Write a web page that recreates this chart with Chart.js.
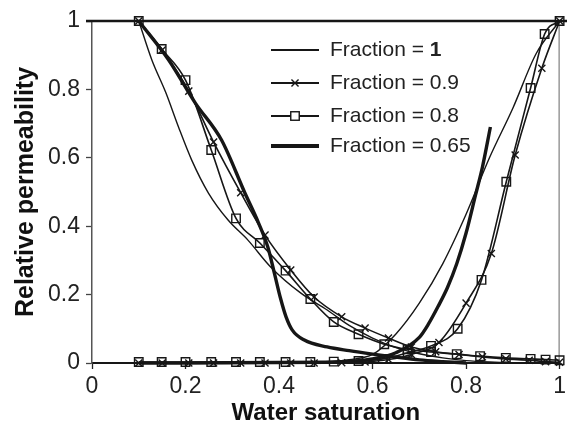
<!DOCTYPE html>
<html>
<head>
<meta charset="utf-8">
<script src="https://cdn.jsdelivr.net/npm/chart.js@4.4.1/dist/chart.umd.min.js"></script>
<style>
  html, body { margin: 0; padding: 0; background: #ffffff; }
  #c { display: block; }
</style>
</head>
<body>
<canvas id="c" width="567" height="434" style="width:567px;height:434px"></canvas>
<script>
// ---------- data ----------
const xTickValues = [0, 0.2, 0.4, 0.6, 0.8, 1];
const xTickLabels = ['0', '0.2', '0.4', '0.6', '0.8', '1'];
const yTickValues = [0, 0.2, 0.4, 0.6, 0.8, 1];
const yTickLabels = ['0', '0.2', '0.4', '0.6', '0.8', '1'];

const seriesNames = ['Fraction = 1', 'Fraction = 0.9', 'Fraction = 0.8', 'Fraction = 0.65'];

// Fraction = 1 (thin line)
const swF100Oil = [0.1, 0.128, 0.158, 0.185, 0.213, 0.249, 0.291, 0.333, 0.382, 0.446, 0.503, 0.55, 0.6, 0.65, 0.7, 0.75, 0.8, 0.85, 0.9, 1.0];
const krF100Oil = [1, 0.886, 0.79, 0.69, 0.594, 0.497, 0.418, 0.36, 0.281, 0.205, 0.155, 0.11, 0.073, 0.045, 0.027, 0.015, 0.007, 0.003, 0.001, 0];
const swF100Wat = [0.1, 0.4, 0.5, 0.55, 0.6, 0.65, 0.7, 0.75, 0.8, 0.85, 0.9, 0.95, 1.0];
const krF100Wat = [0, 0, 0.003, 0.01, 0.025, 0.085, 0.175, 0.29, 0.435, 0.6, 0.745, 0.905, 1];

// Fraction = 0.9 (x markers)
const swF90Oil = [0.1, 0.15, 0.207, 0.26, 0.318, 0.37, 0.425, 0.475, 0.534, 0.584, 0.634, 0.683, 0.735, 0.785, 0.835, 0.885, 0.935, 0.97, 1.0];
const krF90Oil = [1, 0.915, 0.795, 0.646, 0.498, 0.374, 0.272, 0.193, 0.135, 0.102, 0.073, 0.047, 0.033, 0.025, 0.018, 0.012, 0.008, 0.004, 0.002];
const swF90Wat = [0.1, 0.15, 0.207, 0.26, 0.318, 0.37, 0.425, 0.475, 0.534, 0.584, 0.634, 0.683, 0.742, 0.8, 0.854, 0.905, 0.962, 1.0];
const krF90Wat = [0, 0, 0, 0, 0, 0, 0, 0, 0.001, 0.003, 0.01, 0.025, 0.06, 0.175, 0.32, 0.608, 0.862, 1];

// Fraction = 0.8 (square markers)
const swF80Oil = [0.1, 0.149, 0.2, 0.255, 0.308, 0.359, 0.414, 0.467, 0.517, 0.57, 0.625, 0.675, 0.725, 0.78, 0.83, 0.885, 0.938, 0.97, 1.0];
const krF80Oil = [1, 0.918, 0.827, 0.623, 0.423, 0.351, 0.27, 0.187, 0.12, 0.084, 0.055, 0.04, 0.032, 0.026, 0.02, 0.015, 0.012, 0.01, 0.008];
const swF80Wat = [0.1, 0.149, 0.2, 0.255, 0.308, 0.359, 0.414, 0.467, 0.517, 0.57, 0.622, 0.675, 0.725, 0.782, 0.833, 0.886, 0.938, 0.968, 1.0];
const krF80Wat = [0.003, 0.003, 0.003, 0.003, 0.003, 0.003, 0.003, 0.003, 0.004, 0.006, 0.012, 0.03, 0.05, 0.1, 0.243, 0.53, 0.804, 0.962, 1];

// Fraction = 0.65 (thick line)
const swF65Oil = [0.1, 0.164, 0.221, 0.277, 0.327, 0.356, 0.376, 0.39, 0.403, 0.415, 0.428, 0.454, 0.503, 0.55, 0.6, 0.65, 0.7, 0.75, 0.8];
const krF65Oil = [1, 0.886, 0.76, 0.652, 0.497, 0.41, 0.339, 0.263, 0.19, 0.135, 0.097, 0.067, 0.047, 0.036, 0.026, 0.017, 0.009, 0.004, 0];
const swF65Wat = [0.1, 0.5, 0.55, 0.6, 0.65, 0.7, 0.72, 0.74, 0.76, 0.78, 0.8, 0.82, 0.835, 0.852];
const krF65Wat = [0, 0.002, 0.005, 0.012, 0.03, 0.075, 0.115, 0.165, 0.22, 0.29, 0.38, 0.49, 0.573, 0.69];

// ---------- build ----------
const FONT = "'Liberation Sans', Arial, Helvetica, sans-serif";
const INK = '#161616';
const pts = (xs, ys) => xs.map((x, i) => ({ x: x, y: ys[i] }));

const styles = [
  { borderWidth: 1.4, pointStyle: false, pointRadius: 0 },
  { borderWidth: 1.6, pointStyle: 'crossRot', pointRadius: 5 },
  { borderWidth: 1.6, pointStyle: 'rect', pointRadius: 6 },
  { borderWidth: 3.4, pointStyle: false, pointRadius: 0 }
];

function ds(series, xs, ys) {
  const s = styles[series];
  return {
    label: seriesNames[series],
    series: series,
    data: pts(xs, ys),
    borderColor: INK,
    backgroundColor: 'rgba(0,0,0,0)',
    borderWidth: s.borderWidth,
    pointStyle: s.pointStyle,
    pointRadius: s.pointRadius,
    pointBorderColor: INK,
    pointBackgroundColor: 'rgba(0,0,0,0)',
    pointBorderWidth: 1.4,
    cubicInterpolationMode: 'monotone',
    fill: false,
    clip: false
  };
}

const datasets = [
  ds(0, swF100Oil, krF100Oil), ds(0, swF100Wat, krF100Wat),
  ds(1, swF90Oil, krF90Oil), ds(1, swF90Wat, krF90Wat),
  ds(2, swF80Oil, krF80Oil), ds(2, swF80Wat, krF80Wat),
  ds(3, swF65Oil, krF65Oil), ds(3, swF65Wat, krF65Wat)
];

const framePlugin = {
  id: 'frame',
  beforeDatasetsDraw(chart) {
    const a = chart.chartArea, ctx = chart.ctx;
    ctx.save();
    ctx.strokeStyle = '#666';
    ctx.lineWidth = 1;
    ctx.beginPath();
    ctx.moveTo(a.right - 0.5, a.top);
    ctx.lineTo(a.right - 0.5, a.bottom);
    ctx.stroke();
    ctx.strokeStyle = INK;
    ctx.lineWidth = 2.5;
    ctx.beginPath();
    ctx.moveTo(a.left - 6, a.top);
    ctx.lineTo(chart.width, a.top);
    ctx.stroke();
    ctx.restore();
  }
};

const legendPlugin = {
  id: 'fractionLegend',
  afterDatasetsDraw(chart) {
    const a = chart.chartArea, ctx = chart.ctx;
    const x0 = a.left + 179, x1 = a.left + 227, xm = (x0 + x1) / 2, xt = a.left + 238;
    const rowY = [a.top + 29, a.top + 62, a.top + 95, a.top + 125];
    ctx.save();
    seriesNames.forEach((name, i) => {
      const s = styles[i];
      const y = rowY[i];
      ctx.strokeStyle = INK;
      ctx.lineWidth = s.borderWidth + 0.4;
      ctx.beginPath();
      ctx.moveTo(x0, y);
      ctx.lineTo(x1, y);
      ctx.stroke();
      ctx.lineWidth = 1.4;
      if (s.pointStyle === 'crossRot') {
        const r = s.pointRadius * Math.SQRT1_2;
        ctx.beginPath();
        ctx.moveTo(xm - r, y - r); ctx.lineTo(xm + r, y + r);
        ctx.moveTo(xm - r, y + r); ctx.lineTo(xm + r, y - r);
        ctx.stroke();
      } else if (s.pointStyle === 'rect') {
        const h = s.pointRadius * Math.SQRT1_2;
        ctx.fillStyle = '#fff';
        ctx.fillRect(xm - h, y - h, 2 * h, 2 * h);
        ctx.strokeRect(xm - h, y - h, 2 * h, 2 * h);
      }
      ctx.fillStyle = '#222';
      ctx.textBaseline = 'middle';
      ctx.textAlign = 'left';
      const eq = name.indexOf('= ');
      const prefix = name.slice(0, eq + 2), value = name.slice(eq + 2);
      ctx.font = '21px ' + FONT;
      ctx.fillText(prefix, xt, y);
      const w = ctx.measureText(prefix).width;
      ctx.font = (i === 0 ? 'bold ' : '') + '21px ' + FONT;
      ctx.fillText(value, xt + w, y);
    });
    ctx.restore();
  }
};

new Chart(document.getElementById('c'), {
  type: 'line',
  data: { datasets: datasets },
  plugins: [framePlugin, legendPlugin],
  options: {
    responsive: false,
    animation: false,
    devicePixelRatio: 1,
    layout: { padding: { top: 21, right: 2, left: 0, bottom: 0 } },
    plugins: { legend: { display: false }, tooltip: { enabled: false } },
    scales: {
      x: {
        type: 'linear', min: 0, max: 1,
        afterBuildTicks(scale) { scale.ticks = xTickValues.map(v => ({ value: v })); },
        ticks: {
          callback: (v, i) => xTickLabels[i],
          font: { family: FONT, size: 23 }, color: '#222', padding: 4, maxRotation: 0
        },
        grid: { drawOnChartArea: false, drawTicks: true, tickLength: 6, tickColor: '#222', tickWidth: 1.3 },
        border: { color: INK, width: 2 },
        title: { display: true, text: 'Water saturation', color: '#111',
                 font: { family: FONT, size: 24, weight: 'bold' }, padding: { top: 0, bottom: 6 } },
        afterFit(scale) { scale.height = 71; scale.paddingLeft = 0; scale.paddingRight = 0; }
      },
      y: {
        type: 'linear', min: 0, max: 1,
        afterBuildTicks(scale) { scale.ticks = yTickValues.map(v => ({ value: v })); },
        ticks: {
          callback: (v, i) => yTickLabels[i],
          font: { family: FONT, size: 23 }, color: '#222', padding: 6
        },
        grid: { drawOnChartArea: false, drawTicks: true, tickLength: 6, tickColor: '#444', tickWidth: 1.3 },
        border: { color: '#555', width: 1.5 },
        title: { display: true, text: 'Relative permeability', color: '#111',
                 font: { family: FONT, size: 25, weight: 'bold' }, padding: { top: 11, bottom: 11 } },
        afterFit(scale) { scale.width = 92; scale.paddingTop = 0; scale.paddingBottom = 0; }
      }
    }
  }
});
</script>
</body>
</html>
